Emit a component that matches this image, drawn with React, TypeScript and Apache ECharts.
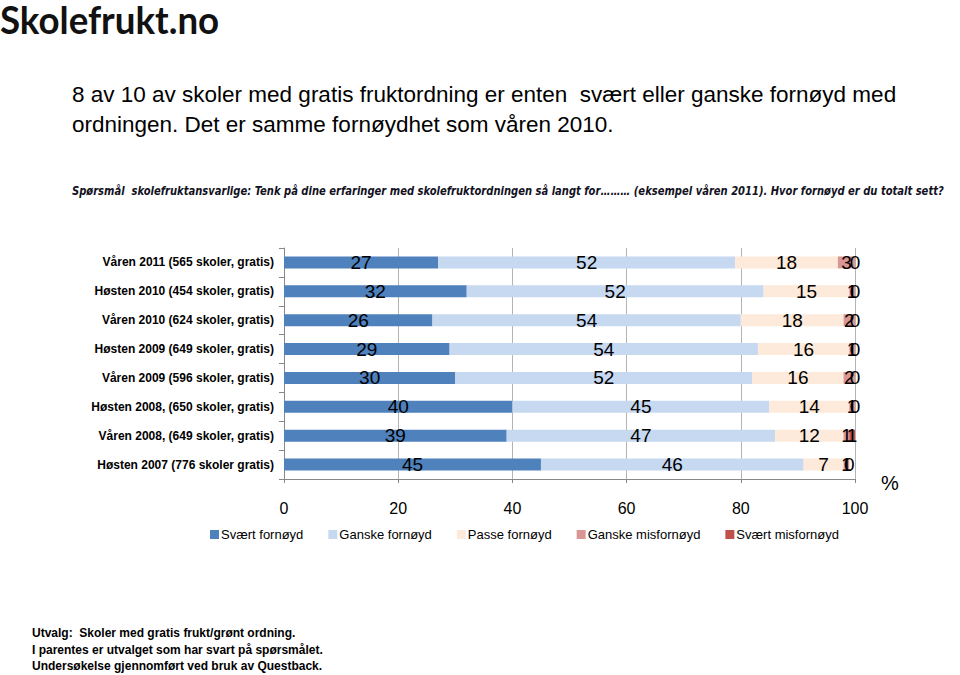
import React, { useEffect, useRef } from "react";
import * as echarts from "echarts";

const categories = [
  "Våren 2011 (565 skoler, gratis)",
  "Høsten 2010 (454 skoler, gratis)",
  "Våren 2010 (624 skoler, gratis)",
  "Høsten 2009 (649 skoler, gratis)",
  "Våren 2009 (596 skoler, gratis)",
  "Høsten 2008, (650 skoler, gratis)",
  "Våren 2008, (649 skoler, gratis)",
  "Høsten 2007 (776 skoler gratis)",
];

const seriesNames = [
  "Svært fornøyd",
  "Ganske fornøyd",
  "Passe fornøyd",
  "Ganske misfornøyd",
  "Svært misfornøyd",
];

const svaertFornoyd = [27, 32, 26, 29, 30, 40, 39, 45];
const ganskeFornoyd = [52, 52, 54, 54, 52, 45, 47, 46];
const passeFornoyd = [18, 15, 18, 16, 16, 14, 12, 7];
const ganskeMisfornoyd = [3, 1, 2, 1, 2, 1, 1, 1];
const svaertMisfornoyd = [0, 0, 0, 0, 0, 0, 1, 0];

const xTicks = [0, 20, 40, 60, 80, 100];

const colors = ["#4F81BD", "#C6D9F1", "#FDEADA", "#D99694", "#C0504D"];

const titleLines = [
  "8 av 10 av skoler med gratis fruktordning er enten  svært eller ganske fornøyd med",
  "ordningen. Det er samme fornøydhet som våren 2010.",
];
const question =
  "Spørsmål  skolefruktansvarlige: Tenk på dine erfaringer med skolefruktordningen så langt for……… (eksempel våren 2011). Hvor fornøyd er du totalt sett?";
const footnotes = [
  "Utvalg:  Skoler med gratis frukt/grønt ordning.",
  "I parentes er utvalget som har svart på spørsmålet.",
  "Undersøkelse gjennomført ved bruk av Questback.",
];

export default function App() {
  const ref = useRef<HTMLDivElement>(null);
  useEffect(() => {
    if (!ref.current) return;
    const chart = echarts.init(ref.current, null, { renderer: "svg" });
    const data = [svaertFornoyd, ganskeFornoyd, passeFornoyd, ganskeMisfornoyd, svaertMisfornoyd];
    const font = "Liberation Sans, Arial, sans-serif";
    chart.setOption({
      animation: false,
      backgroundColor: "#ffffff",
      textStyle: { fontFamily: font },
      color: colors,
      grid: { left: 284, right: 105, top: 248, height: 231 },
      legend: {
        left: 205,
        top: 523,
        itemWidth: 9,
        itemHeight: 9,
        itemGap: 25,
        icon: "rect",
        textStyle: { fontSize: 13, color: "#000", padding: [0, 0, 0, -3] },
        data: seriesNames,
      },
      xAxis: {
        type: "value",
        min: 0,
        max: 100,
        interval: 20,
        axisLine: { show: true, lineStyle: { color: "#888", width: 1 } },
        axisTick: { show: true, length: 4, lineStyle: { color: "#888" } },
        splitLine: { show: true, lineStyle: { color: "#b4b4b4", width: 1 } },
        axisLabel: {
          fontSize: 16,
          color: "#000",
          margin: 21,
          formatter: (v: number) => (xTicks.includes(v) ? String(v) : ""),
        },
      },
      yAxis: {
        type: "category",
        inverse: true,
        data: categories,
        axisLine: { show: true, lineStyle: { color: "#888", width: 1 } },
        axisTick: { show: true, length: 5, lineStyle: { color: "#888" } },
        axisLabel: { fontSize: 12, fontWeight: "bold", color: "#000", margin: 10 },
      },
      series: seriesNames.map((name, i) => ({
        name,
        type: "bar",
        stack: "total",
        barWidth: 12,
        data: data[i],
        itemStyle: { color: colors[i] },
        label: {
          show: true,
          position: "inside",
          fontSize: 19,
          color: "#000",
          fontFamily: font,
        },
      })),
      graphic: [
        {
          type: "text",
          left: 0,
          top: 0,
          scaleX: 0.965,
          style: {
            text: "Skolefrukt.no",
            font: "bold 38px Lato, 'Open Sans', sans-serif",
            fill: "#111",
          },
        },
        ...titleLines.map((t, i) => ({
          type: "text",
          left: 72,
          top: 83 + i * 30,
          style: { text: t, font: "22.5px " + font, fill: "#000" },
        })),
        {
          type: "text",
          left: 72,
          top: 185,
          scaleX: 0.925,
          style: {
            text: question,
            font: "italic bold 12px 'DejaVu Sans Condensed', sans-serif",
            fill: "#111122",
          },
        },
        {
          type: "text",
          left: 881,
          top: 473,
          style: { text: "%", font: "20px " + font, fill: "#000" },
        },
        ...footnotes.map((t, i) => ({
          type: "text",
          left: 32,
          top: 627 + i * 16.5,
          style: { text: t, font: "bold 12px " + font, fill: "#000" },
        })),
      ],
    });
    return () => chart.dispose();
  }, []);
  return (
    <div
      ref={ref}
      style={{ position: "fixed", left: 0, top: 0, width: 960, height: 675 }}
    />
  );
}
